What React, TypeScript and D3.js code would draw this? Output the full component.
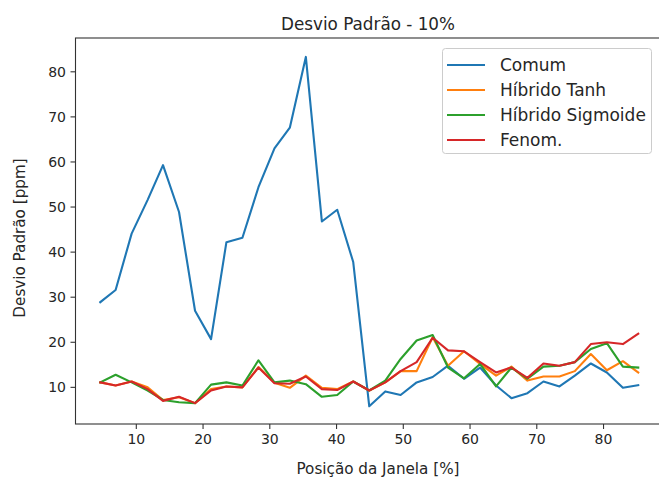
import React from "react";
import * as d3 from "d3";

const positions = [4.6, 6.9, 9.3, 11.7, 14.0, 16.4, 18.8, 21.2, 23.5, 25.9, 28.3, 30.7, 33.0, 35.4, 37.8, 40.1, 42.5, 44.9, 47.3, 49.6, 52.0, 54.4, 56.7, 59.1, 61.5, 63.9, 66.2, 68.6, 71.0, 73.4, 75.7, 78.1, 80.5, 82.9, 85.2];

const comum = [28.9, 31.6, 44.1, 51.6, 59.3, 48.9, 27.0, 20.7, 42.2, 43.2, 54.4, 63.0, 67.6, 83.3, 46.8, 49.4, 37.8, 5.8, 9.1, 8.3, 11.1, 12.3, 14.8, 11.9, 14.4, 10.4, 7.6, 8.7, 11.3, 10.2, 12.6, 15.3, 13.3, 9.9, 10.5];
const hibridoTanh = [11.1, 10.4, 11.3, 10.0, 7.2, 7.8, 6.5, 9.6, 10.2, 10.0, 14.5, 11.0, 9.9, 12.6, 9.9, 9.6, 11.3, 9.3, 11.1, 13.6, 13.6, 21.1, 14.8, 18.0, 15.2, 12.6, 14.6, 11.5, 12.4, 12.4, 13.6, 17.4, 13.8, 15.8, 13.3];
const hibridoSigmoide = [11.1, 12.8, 11.1, 9.3, 7.2, 6.7, 6.5, 10.6, 11.1, 10.4, 16.0, 11.1, 11.5, 10.7, 7.9, 8.3, 11.3, 9.3, 11.5, 16.3, 20.4, 21.6, 14.4, 12.0, 15.2, 10.2, 14.4, 11.9, 14.6, 14.8, 15.6, 18.5, 19.8, 14.6, 14.4];
const fenom = [11.1, 10.4, 11.3, 9.6, 7.0, 7.9, 6.5, 9.3, 10.2, 10.0, 14.4, 10.9, 10.8, 12.4, 9.6, 9.4, 11.3, 9.3, 11.1, 13.6, 15.6, 21.0, 18.2, 18.0, 15.6, 13.3, 14.4, 12.1, 15.3, 14.8, 15.6, 19.6, 20.0, 19.6, 21.9];

const seriesNames = ["Comum", "Híbrido Tanh", "Híbrido Sigmoide", "Fenom."];
const seriesColors = ["#1f77b4", "#ff7f0e", "#2ca02c", "#d62728"];
const xTicks = [10, 20, 30, 40, 50, 60, 70, 80];
const yTicks = [10, 20, 30, 40, 50, 60, 70, 80];

const title = "Desvio Padrão - 10%";
const xLabel = "Posição da Janela [%]";
const yLabel = "Desvio Padrão [ppm]";

export default function App() {
  if (typeof document !== "undefined") document.body.style.margin = "0";
  const W = 659, H = 481;
  const left = 75.5, right = 662, top = 38, bottom = 424;
  const x = d3.scaleLinear().domain([0.89, 88.76]).range([left, right]);
  const y = d3.scaleLinear().domain([1.87, 87.5]).range([bottom, top]);
  const all = [comum, hibridoTanh, hibridoSigmoide, fenom];
  const line = d3.line<number>().x((_, i) => x(positions[i])).y((d) => y(d));
  const font = "'DejaVu Sans', sans-serif";
  const txt = "#262626";

  const legX = 442.5, legY = 48.5, legW = 209, legH = 105;
  const rowY = [65, 90, 115, 140];

  return (
    <svg width={W} height={H} style={{ position: "absolute", left: 0, top: 0 }} fontFamily={font}>
      <rect x={0} y={0} width={W} height={H} fill="#fff" />
      {all.map((s, i) => (
        <path key={i} d={line(s) || ""} fill="none" stroke={seriesColors[i]} strokeWidth={2.1} strokeLinejoin="round" strokeLinecap="square" />
      ))}
      <rect x={left} y={top} width={right - left} height={bottom - top} fill="none" stroke="#333" strokeWidth={1.1} />
      {xTicks.map((t) => (
        <g key={t} transform={`translate(${x(t)},${bottom})`}>
          <line y1={0} y2={5} stroke="#333" strokeWidth={1.1} />
          <text y={19.5} textAnchor="middle" fontSize={14} fill={txt}>{t}</text>
        </g>
      ))}
      {yTicks.map((t) => (
        <g key={t} transform={`translate(${left},${y(t)})`}>
          <line x1={0} x2={-5} stroke="#333" strokeWidth={1.1} />
          <text x={-9.5} dy="0.36em" textAnchor="end" fontSize={14} fill={txt}>{t}</text>
        </g>
      ))}
      <text x={368} y={30} textAnchor="middle" fontSize={16.8} fill={txt}>{title}</text>
      <text x={378} y={474} textAnchor="middle" fontSize={15.2} fill={txt}>{xLabel}</text>
      <text transform={`translate(25,${238}) rotate(-90)`} textAnchor="middle" fontSize={15.2} fill={txt}>{yLabel}</text>
      <rect x={legX} y={legY} width={legW} height={legH} rx={3} fill="#fff" fillOpacity={0.8} stroke="#cccccc" strokeWidth={1} />
      {seriesNames.map((n, i) => (
        <g key={n}>
          <line x1={447} x2={485} y1={rowY[i]} y2={rowY[i]} stroke={seriesColors[i]} strokeWidth={2.1} />
          <text x={500} y={rowY[i]} dy="0.36em" fontSize={17} fill={txt}>{n}</text>
        </g>
      ))}
    </svg>
  );
}
